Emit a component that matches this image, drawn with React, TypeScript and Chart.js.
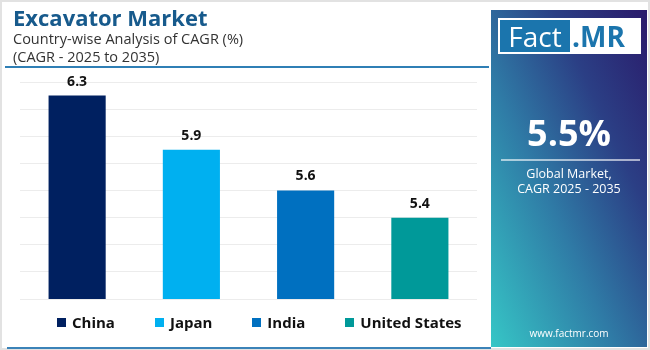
import React, { useEffect, useRef } from "react";
import { Chart, registerables } from "chart.js";

Chart.register(...registerables);

const categories = ["China", "Japan", "India", "United States"];
const cagrValues = [6.3, 5.9, 5.6, 5.4];
const barColors = ["#002060", "#00b0f0", "#0070c0", "#009999"];
const yMin = 4.8;
const yMax = 6.4;
const yStep = 0.2;

const FONT = "'Open Sans', 'DejaVu Sans', sans-serif";

const valueLabelPlugin = {
  id: "valueLabels",
  afterDatasetsDraw(chart: any) {
    const ctx = chart.ctx;
    const meta = chart.getDatasetMeta(0);
    ctx.save();
    ctx.font = `bold 14px ${FONT}`;
    ctx.fillStyle = "#111111";
    ctx.textAlign = "center";
    ctx.textBaseline = "middle";
    meta.data.forEach((bar: any, i: number) => {
      ctx.fillText(String(cagrValues[i]), bar.x, bar.y - 14);
    });
    ctx.restore();
  },
};

export default function App() {
  const canvasRef = useRef<HTMLCanvasElement | null>(null);

  useEffect(() => {
    if (!canvasRef.current) return;
    const chart = new Chart(canvasRef.current, {
      type: "bar",
      data: {
        labels: categories,
        datasets: [
          {
            data: cagrValues,
            backgroundColor: barColors,
            borderWidth: 0,
            barPercentage: 0.5,
            categoryPercentage: 1,
          },
        ],
      },
      options: {
        responsive: false,
        animation: false,
        devicePixelRatio: 1,
        layout: { padding: { left: 20, right: 13, top: 82, bottom: 51 } },
        plugins: { legend: { display: false }, tooltip: { enabled: false } },
        scales: {
          x: { display: false },
          y: {
            min: yMin,
            max: yMax,
            ticks: { display: false, stepSize: yStep },
            border: { display: false },
            grid: { color: "#ececec", drawTicks: false, lineWidth: 1 },
          },
        },
      },
      plugins: [valueLabelPlugin],
    });
    return () => chart.destroy();
  }, []);

  return (
    <div
      style={{
        position: "fixed",
        left: 0,
        top: 0,
        width: 650,
        height: 350,
        background: "#ffffff",
        overflow: "hidden",
        fontFamily: FONT,
      }}
    >
      <canvas
        ref={canvasRef}
        width={490}
        height={350}
        style={{ position: "absolute", left: 0, top: 0, width: 490, height: 350 }}
      />
      {/* outer border */}
      <div
        style={{
          position: "absolute",
          left: 0,
          top: 0,
          width: 646,
          height: 346,
          border: "2px solid #e2e2e2",
          pointerEvents: "none",
        }}
      />
      {/* title */}
      <div
        style={{
          position: "absolute",
          left: 13,
          top: 3,
          fontSize: 22,
          fontWeight: 700,
          color: "#175a8c",
          lineHeight: "28px",
          whiteSpace: "nowrap",
        }}
      >
        Excavator Market
      </div>
      <div
        style={{
          position: "absolute",
          left: 13,
          top: 30,
          fontSize: 14.5,
          color: "#333333",
          lineHeight: "18px",
          whiteSpace: "nowrap",
        }}
      >
        Country-wise Analysis of CAGR (%)
        <br />
        (CAGR - 2025 to 2035)
      </div>
      <div
        style={{
          position: "absolute",
          left: 5,
          top: 66,
          width: 484,
          height: 2,
          background: "#2f7fb5",
        }}
      />
      {/* legend */}
      <div
        style={{
          position: "absolute",
          left: 57,
          top: 312,
          display: "flex",
          alignItems: "center",
          gap: 40,
          fontSize: 15,
          fontWeight: 700,
          color: "#111111",
          lineHeight: "20px",
          whiteSpace: "nowrap",
        }}
      >
        {categories.map((c, i) => (
          <div key={c} style={{ display: "flex", alignItems: "center" }}>
            <span
              style={{
                display: "inline-block",
                width: 9,
                height: 9,
                background: barColors[i],
                marginRight: 6,
              }}
            />
            <span>{c}</span>
          </div>
        ))}
      </div>
      <div
        style={{
          position: "absolute",
          left: 7,
          top: 347,
          width: 484,
          height: 2,
          background: "#3b83b8",
        }}
      />
      {/* right panel */}
      <div
        style={{
          position: "absolute",
          left: 491,
          top: 10,
          width: 156,
          height: 337,
          background:
            "linear-gradient(to top right, #36c6c6 0%, #2f7ba6 40%, #2b3f85 70%, #2a1a6a 100%)",
        }}
      >
        <div
          style={{
            position: "absolute",
            left: 7,
            top: 8,
            width: 143,
            height: 36,
            background: "#ffffff",
          }}
        >
          <div
            style={{
              position: "absolute",
              left: 2,
              top: 2,
              width: 70,
              height: 32,
              background: "#1b75ad",
              color: "#ffffff",
              fontSize: 28,
              fontWeight: 400,
              lineHeight: "32px",
              textAlign: "center",
            }}
          >
            Fact
          </div>
          <div
            style={{
              position: "absolute",
              left: 74,
              top: 2,
              color: "#1b75ad",
              fontSize: 28,
              fontWeight: 700,
              lineHeight: "32px",
            }}
          >
            .MR
          </div>
        </div>
        <div
          style={{
            position: "absolute",
            left: 0,
            width: 156,
            top: 101,
            textAlign: "center",
            color: "#ffffff",
            fontSize: 36,
            fontWeight: 700,
            lineHeight: "44px",
          }}
        >
          5.5%
        </div>
        <div
          style={{
            position: "absolute",
            left: 10,
            top: 149,
            width: 139,
            height: 2,
            background: "rgba(255,255,255,0.6)",
          }}
        />
        <div
          style={{
            position: "absolute",
            left: 0,
            width: 156,
            top: 156,
            textAlign: "center",
            color: "#ffffff",
            fontSize: 12.5,
            lineHeight: "15px",
          }}
        >
          Global Market,
          <br />
          CAGR 2025 - 2035
        </div>
        <div
          style={{
            position: "absolute",
            left: 0,
            width: 156,
            top: 316,
            textAlign: "center",
            color: "#ffffff",
            fontSize: 10,
            lineHeight: "14px",
          }}
        >
          www.factmr.com
        </div>
      </div>
    </div>
  );
}
